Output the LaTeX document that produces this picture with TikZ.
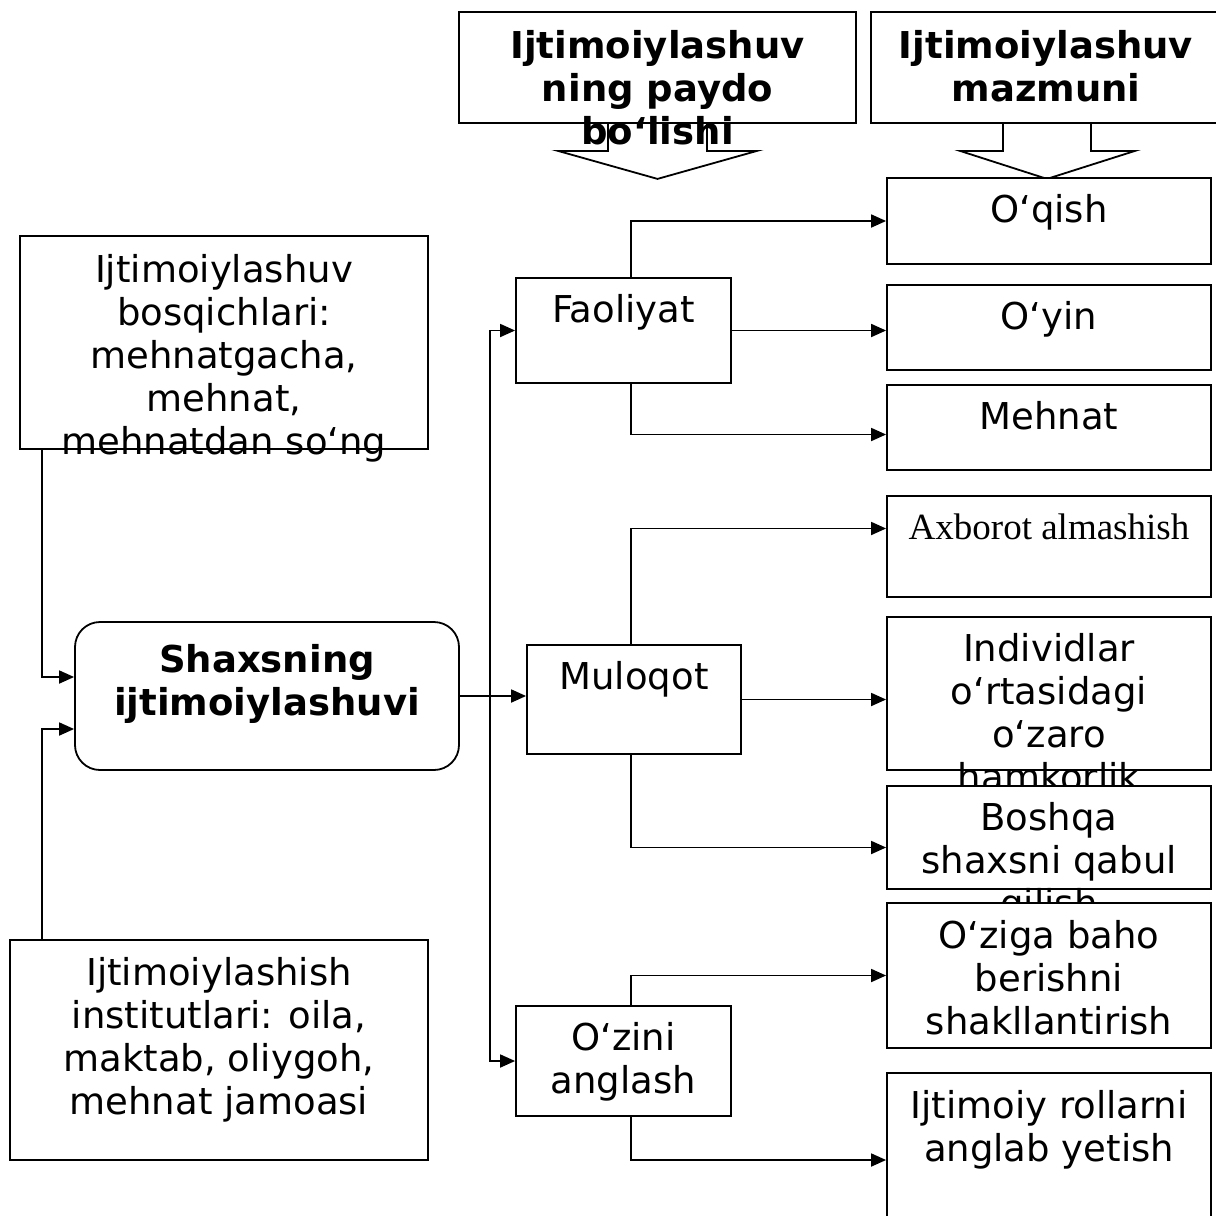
\documentclass[tikz,border=0pt]{standalone}
\usepackage{fontspec}
\setmainfont{DejaVu Sans}
\newfontfamily\serifax{Liberation Serif}
\usetikzlibrary{positioning,arrows.meta}

\tikzset{
  box/.style={draw, fill=white, line width=1.8pt, inner sep=0pt},
  txt/.style={align=center, inner sep=0pt, font=\fontsize{37}{43}\selectfont},
  arr/.style={line width=1.8pt, -{Triangle[length=15pt,width=13pt]}},
}

\begin{document}
\begin{tikzpicture}[x=1pt,y=-1pt]
\useasboundingbox (0,0) rectangle (1216,1216);

% top headers
\node[box, minimum width=397pt, minimum height=111pt] (paydo) at (657.5,67.5) {};
\node[txt, font=\fontsize{37}{43}\selectfont\bfseries, below=19pt of paydo.north] {Ijtimoiylashuv\\ning paydo\\bo‘lishi};
\draw[line width=1.8pt] ([xshift=-49.5pt]paydo.south) -- ++(0,27) -- ++(-50,0) -- ++(99.5,28) -- ++(99.5,-28) -- ++(-50,0) -- ++(0,-27);

\node[box, minimum width=350pt, minimum height=111pt] (mazmun) at (1046,67.5) {};
\node[txt, font=\fontsize{37}{43}\selectfont\bfseries, below=19pt of mazmun.north] {Ijtimoiylashuv\\mazmuni};
\draw[line width=1.8pt] ([xshift=-43pt]mazmun.south) -- ++(0,27) -- ++(-43,0) -- ++(87,28) -- ++(88,-28) -- ++(-44,0) -- ++(0,-27);

% left column
\node[box, minimum width=408pt, minimum height=213pt] (stage) at (224,342.5) {};
\node[txt, below=19pt of stage.north] {Ijtimoiylashuv\\bosqichlari:\\mehnatgacha,\\mehnat,\\mehnatdan so‘ng};

\node[box, rounded corners=25pt, minimum width=384pt, minimum height=148pt] (shaxs) at (267,696) {};
\node[txt, font=\fontsize{37}{43}\selectfont\bfseries, below=23pt of shaxs.north] {Shaxsning\\ijtimoiylashuvi};

\node[box, minimum width=418pt, minimum height=220pt] (inst) at (219,1050) {};
\node[txt, below=18pt of inst.north] {Ijtimoiylashish\\institutlari: oila,\\maktab, oliygoh,\\mehnat jamoasi};

% middle column
\node[box, minimum width=215pt, minimum height=105pt] (faol) at (623.5,330.5) {};
\node[txt, below=17pt of faol.north] {Faoliyat};

\node[box, minimum width=214pt, minimum height=109pt] (mul) at (634,699.5) {};
\node[txt, below=17pt of mul.north] {Muloqot};

\node[box, minimum width=215pt, minimum height=110pt] (ozini) at (623.5,1061) {};
\node[txt, below=17pt of ozini.north] {O‘zini\\anglash};

% right column
\node[box, minimum width=324pt, minimum height=86pt] (oqish) at (1049,221) {};
\node[txt, below=17pt of oqish.north] {O‘qish};

\node[box, minimum width=324pt, minimum height=85pt] (oyin) at (1049,327.5) {};
\node[txt, below=17pt of oyin.north] {O‘yin};

\node[box, minimum width=324pt, minimum height=85pt] (mehn) at (1049,427.5) {};
\node[txt, below=17pt of mehn.north] {Mehnat};

\node[box, minimum width=324pt, minimum height=101pt] (axb) at (1049,546.5) {};
\node[txt, font=\fontsize{37}{43}\serifax, below=19pt of axb.north] {Axborot almashish};

\node[box, minimum width=324pt, minimum height=153pt] (indiv) at (1049,693.5) {};
\node[txt, below=17pt of indiv.north] {Individlar\\o‘rtasidagi\\o‘zaro\\hamkorlik};

\node[box, minimum width=324pt, minimum height=103pt] (bosh) at (1049,837.5) {};
\node[txt, below=17pt of bosh.north] {Boshqa\\shaxsni qabul\\qilish};

\node[box, minimum width=324pt, minimum height=145pt] (ozbaho) at (1049,975.5) {};
\node[txt, below=18pt of ozbaho.north] {O‘ziga baho\\berishni\\shakllantirish};

\node[box, minimum width=324pt, minimum height=174pt] (rollar) at (1049,1160) {};
\node[txt, below=18pt of rollar.north] {Ijtimoiy rollarni\\anglab yetish};

% connectors
\coordinate (bus) at (490,698);
\draw[arr] ([xshift=23pt]stage.south west) |- ([yshift=19pt]shaxs.west);
\draw[arr] ([xshift=33pt]inst.north west) |- ([yshift=-33pt]shaxs.west);
\draw[arr] (shaxs.east) -- (shaxs.east -| mul.west);
\draw[arr] (bus) |- (faol.west);
\draw[arr] (bus) |- (ozini.west);

\draw[arr] ([xshift=7.5pt]faol.north) |- (oqish.west);
\draw[arr] (faol.east) -- (faol.east -| oyin.west);
\draw[arr] ([xshift=7.5pt]faol.south) |- ([yshift=-7pt]mehn.west);

\draw[arr] ([xshift=-3pt]mul.north) |- ([yshift=18pt]axb.west);
\draw[arr] (mul.east) -- (mul.east -| indiv.west);
\draw[arr] ([xshift=-3pt]mul.south) |- ([yshift=-10pt]bosh.west);

\draw[arr] ([xshift=7.5pt]ozini.north) |- (ozbaho.west);
\draw[arr] ([xshift=7.5pt]ozini.south) |- (rollar.west);

\end{tikzpicture}
\end{document}
